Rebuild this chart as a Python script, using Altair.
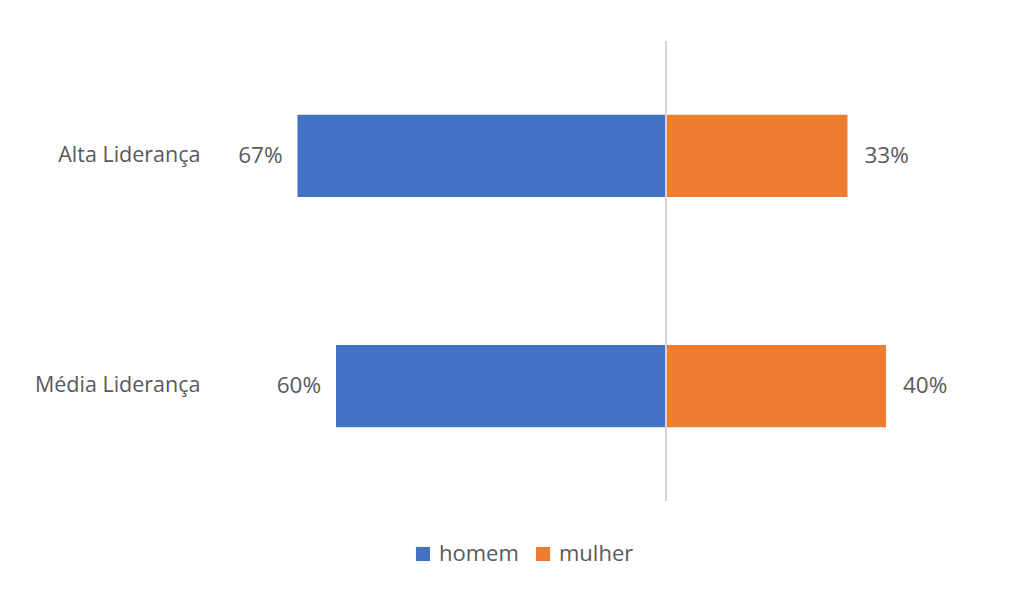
import altair as alt
import pandas as pd

categories = ["Alta Liderança", "Média Liderança"]
homem = [0.67, 0.60]
mulher = [0.33, 0.40]
labels_homem = ["67%", "60%"]
labels_mulher = ["33%", "40%"]

rows = []
for c, h, m, lh, lm in zip(categories, homem, mulher, labels_homem, labels_mulher):
    rows.append({"cat": c, "genero": "homem", "v": -h, "lbl": lh})
    rows.append({"cat": c, "genero": "mulher", "v": m, "lbl": lm})
df = pd.DataFrame(rows)

FONT = "Open Sans"
GRAY = "#595959"

x = alt.X("v:Q", scale=alt.Scale(domain=[-0.8, 0.6], nice=False, zero=False), axis=None)
y = alt.Y("cat:N", sort=categories,
          scale=alt.Scale(paddingInner=0.643, paddingOuter=0.32),
          axis=alt.Axis(title=None, ticks=False, domain=False, labelPadding=26,
                        labelFontSize=21.5, labelColor=GRAY, labelFont=FONT))

base = alt.Chart(df)

bars = base.mark_bar().encode(
    x=x, x2=alt.datum(0), y=y,
    color=alt.Color("genero:N",
                    scale=alt.Scale(domain=["homem", "mulher"], range=["#4472C4", "#ED7D31"]),
                    legend=alt.Legend(title=None, orient="none", direction="horizontal",
                                      legendX=186, legendY=502, symbolType="square",
                                      symbolSize=200, symbolStrokeWidth=0,
                                      labelFontSize=22, labelColor=GRAY, labelFont=FONT,
                                      columnPadding=13, symbolOffset=0, labelOffset=5)),
)

txt_left = base.transform_filter(alt.datum.genero == "homem").mark_text(
    align="right", baseline="middle", dx=-15, fontSize=22.5, color=GRAY, font=FONT
).encode(x=x, y=y, text="lbl:N")

txt_right = base.transform_filter(alt.datum.genero == "mulher").mark_text(
    align="left", baseline="middle", dx=17, fontSize=22.5, color=GRAY, font=FONT
).encode(x=x, y=y, text="lbl:N")

rule = alt.Chart(pd.DataFrame({"z": [0]})).mark_rule(color="#d4d4d4", strokeWidth=2).encode(
    x=alt.X("z:Q", scale=alt.Scale(domain=[-0.8, 0.6], nice=False, zero=False), axis=None)
)

chart = alt.layer(bars, txt_left, txt_right, rule).properties(
    width=770, height=460,
    padding={"left": 218, "top": 33, "right": 10, "bottom": 79},
    autosize=alt.AutoSizeParams(type="none"),
    background="white",
).configure_view(stroke=None)

chart.save("out.html", embed_options={"renderer": "svg", "actions": False})
